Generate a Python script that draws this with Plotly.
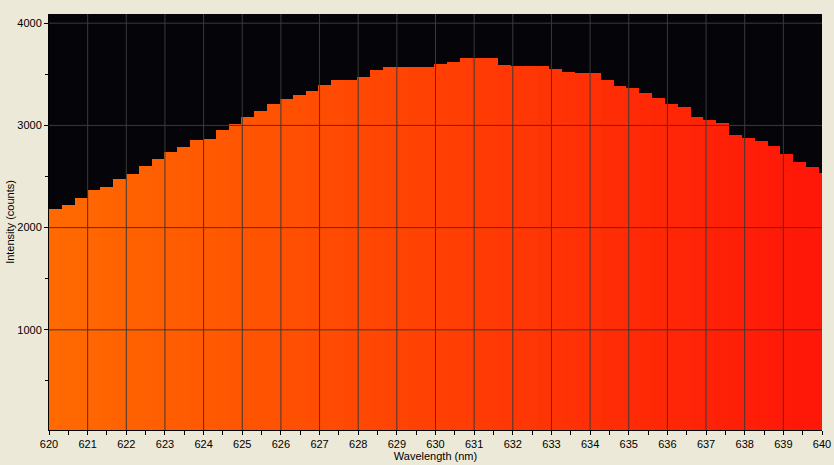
import plotly.graph_objects as go

# Spectrum data (step bins, ~0.332 nm wide starting at 620 nm)
bin_start = 620.0
bin_width = 0.332
intensity = [
    2179, 2218, 2288, 2366, 2395, 2474, 2523, 2601, 2670, 2738,
    2787, 2856, 2866, 2954, 3013, 3081, 3140, 3209, 3258, 3297,
    3336, 3395, 3444, 3444, 3473, 3542, 3572, 3572, 3572, 3572,
    3601, 3621, 3660, 3660, 3660, 3591, 3581, 3581, 3581, 3552,
    3523, 3513, 3513, 3444, 3385, 3366, 3317, 3268, 3209, 3179,
    3081, 3052, 3023, 2905, 2876, 2846, 2797, 2719, 2640, 2591,
    2532,
]
wavelength = [bin_start + bin_width * (i + 0.5) for i in range(len(intensity))]

x_ticks = list(range(620, 641))
y_ticks = [1000, 2000, 3000, 4000]
x_range = [620, 640]
y_range = [20, 4090]

# horizontal colour gradient (orange -> red)
c0 = (255, 106, 0)
c1 = (255, 22, 8)
def grad(x):
    t = (x - x_range[0]) / (x_range[1] - x_range[0])
    t = max(0.0, min(1.0, t))
    r, g, b = (round(a + (bb - a) * t) for a, bb in zip(c0, c1))
    return f"rgb({r},{g},{b})"

colors = [grad(x) for x in wavelength]

fig = go.Figure()
fig.add_trace(go.Bar(
    x=wavelength, y=intensity, width=bin_width,
    marker=dict(color=colors, line=dict(width=0)),
    hoverinfo="x+y", showlegend=False,
))

grid_color = "#3a3a3a"
shapes = []
for xv in x_ticks[1:-1]:
    shapes.append(dict(type="line", xref="x", yref="paper", x0=xv, x1=xv, y0=0, y1=1,
                       line=dict(color=grid_color, width=1), layer="above"))
for yv in y_ticks:
    shapes.append(dict(type="line", xref="paper", yref="y", x0=0, x1=1, y0=yv, y1=yv,
                       line=dict(color=grid_color, width=1), layer="above"))

font = dict(family="Liberation Sans, Arial, sans-serif", size=11, color="#000000")

fig.update_layout(
    width=834, height=465,
    margin=dict(l=49, r=12, t=14, b=35),
    paper_bgcolor="#ECE9D8",
    plot_bgcolor="#050408",
    bargap=0,
    font=font,
    shapes=shapes,
    xaxis=dict(
        range=x_range, tickvals=x_ticks, ticktext=[str(v) for v in x_ticks],
        showgrid=False, zeroline=False, automargin=False,
        showline=True, linecolor="#000000", linewidth=1,
        ticks="outside", ticklen=4, tickcolor="#000000",
        minor=dict(dtick=0.5, tick0=620, ticks="outside", ticklen=4, tickcolor="#000000", showgrid=False),
        title=dict(text="Wavelength (nm)", standoff=2, font=font),
        layer="above traces", fixedrange=True,
    ),
    yaxis=dict(
        range=y_range, tickvals=y_ticks, ticktext=[str(v) for v in y_ticks],
        showgrid=False, zeroline=False, automargin=False,
        showline=True, linecolor="#000000", linewidth=1,
        ticks="outside", ticklen=4, tickcolor="#000000",
        minor=dict(dtick=500, tick0=0, ticks="outside", ticklen=3, tickcolor="#000000", showgrid=False),
        title=dict(text="Intensity (counts)", standoff=0, font=font),
        layer="above traces", fixedrange=True,
    ),
)

fig.write_html(
    "out.html",
    config={"displayModeBar": False},
    post_script="document.body.style.margin='0';document.body.style.overflow='hidden';document.body.style.background='#ECE9D8';",
)
